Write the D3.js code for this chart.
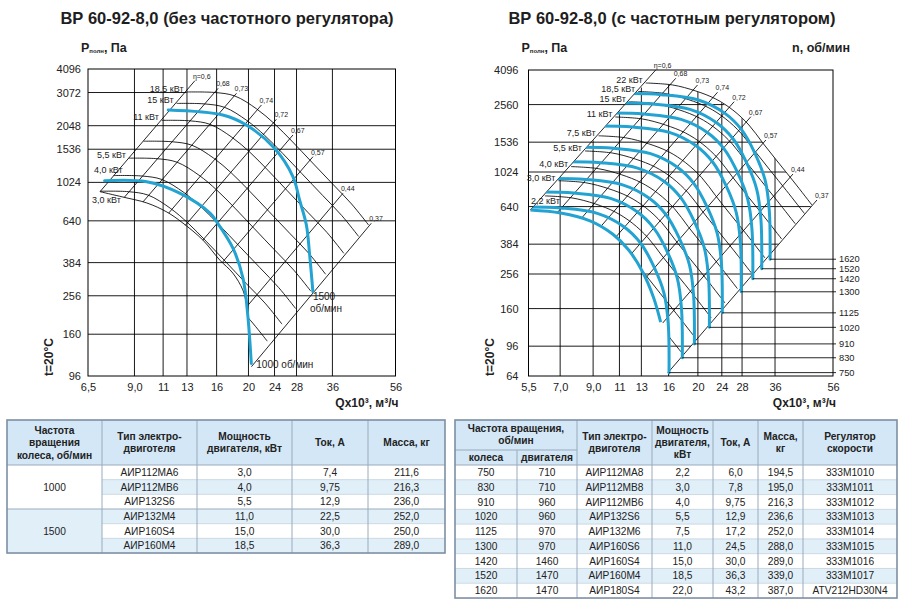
<!DOCTYPE html>
<html><head><meta charset="utf-8">
<script src="https://cdn.jsdelivr.net/npm/d3@7/dist/d3.min.js"></script>
<style>body{margin:0;background:#fff}svg{display:block}</style>
</head><body><svg id="c" width="900" height="601"></svg>
<script>
// ================= DATA =================
const leftTitle = "ВР 60-92-8,0 (без частотного регулятора)";
const rightTitle = "ВР 60-92-8,0 (с частотным регулятором)";

const leftXTicks = [6.5, 9, 11, 13, 16, 20, 24, 28, 36, 56];
const leftXTickLabels = ["6,5","9,0","11","13","16","20","24","28","36","56"];
const leftYTicks = [96,160,256,384,640,1024,1536,2048,3072,4096];
const rightXTicks = [5.5, 7, 9, 11, 13, 16, 20, 24, 28, 36, 56];
const rightXTickLabels = ["5,5","7,0","9,0","11","13","16","20","24","28","36","56"];
const rightYTicks = [64,96,160,256,384,640,1024,1536,2560,4096];

// left chart: fan curves (blue)
const leftSpeeds = ["1000","1500"];
const leftSpeedQ = [[7.3,9.8,12.4,15.3,16.0,17.95,19.25,19.9,20.4],
                    [11.4,16.7,19.7,24.0,27.3,28.6,30.0,30.7,31.4]];
const leftSpeedP = [[1046,1033,896,702,633,457,317,202,112],
                    [2481,2334,2066,1553,1098,826,608,421,269]];
// left chart: power lines (black)
const leftPowerLabels = ["18,5 кВт","15 кВт","11 кВт","","5,5 кВт","4,0 кВт","",""];
const leftPowerQ = [
 [12.96,15.8,18.17,21.19,24.03,27.26,31.13,36.05,41.18,46.38],
 [12.09,14.73,16.94,19.76,22.41,25.42,29.03,33.62,38.40,43.25],
 [10.90,13.29,15.28,17.82,20.21,22.92,26.18,30.31,34.63,39.00],
 [9.59,11.69,13.45,15.68,17.78,20.17,23.04,26.68,30.48,34.33],
 [8.65,10.54,12.12,14.14,16.03,18.19,20.77,24.05,27.48,30.94],
 [7.78,9.48,10.90,12.72,14.42,16.36,18.68,21.63,24.71,27.83],
 [7.07,8.62,9.91,11.56,13.10,14.86,16.98,19.66,22.46,25.29],
 [6.37,7.77,8.94,10.42,11.82,13.41,15.31,17.73,20.25,22.81]];
const leftPowerP = [
 [3092,3073,2945,2512,2091,1678,1314,1004,786,608],
 [2689,2672,2561,2184,1818,1459,1143,873,684,529],
 [2186,2173,2082,1776,1479,1187,929,710,556,430],
 [1694,1683,1613,1376,1145,919,720,550,431,333],
 [1377,1368,1311,1118,931,747,585,447,350,271],
 [1113,1107,1061,905,753,604,473,362,283,219],
 [919,914,876,747,622,499,391,298,234,181],
 [748,743,712,608,506,406,318,243,190,147]];
// left chart: inner boundary line (3,0 кВт)
const leftInnerLabel = "3,0 кВт";
const leftInnerQ = [7.07,8.30,9.82,11.29,12.63,14.53,16.36,17.92,19.22,19.76];
const leftInnerP = [914,856,796,713,623,506,396,338,275,229];
// left chart: efficiency rays
const leftEta = ["η=0,6","0,68","0,73","0,74","0,72","0,67","0,57","0,44","0,37"];
const leftEtaTopQ = [13.74,16.17,18.39,21.9,24.32,27.31,31.42,38.75,47.26];
const leftEtaTopP = [3550,3235,3043,2638,2215,1828,1402,896,621];
const leftEtaBotQ = [7.07,8.39,9.55,11.44,12.85,14.53,16.65,19.79,20.42];
const leftEtaBotP = [914,855,806,704,606,506,385,224.6,107.6];

// right chart: fan curves (blue)
const rightSpeeds = ["750","830","910","1020","1125","1300","1420","1520","1620"];
const rightSpeedQ = [
 [5.5,7.02,9.29,11.38,12.93,14.3,15.45,15.95,16.05],
 [6.09,7.77,10.28,12.59,14.31,15.83,17.10,17.65,17.76],
 [6.67,8.52,11.27,13.81,15.69,17.35,18.75,19.35,19.47],
 [7.48,9.55,12.63,15.48,17.58,19.45,21.01,21.69,21.83],
 [8.25,10.53,13.94,17.07,19.40,21.45,23.18,23.93,24.08],
 [9.53,12.17,16.10,19.72,22.41,24.79,26.78,27.65,27.82],
 [10.41,13.29,17.59,21.55,24.48,27.07,29.25,30.20,30.39],
 [11.15,14.23,18.83,23.06,26.21,28.98,31.31,32.33,32.53],
 [11.88,15.16,20.07,24.58,27.93,30.89,33.37,34.45,34.67]];
const rightSpeedP = [
 [637,628,584,487,389,283,197,131,67],
 [780,769,715,596,476,347,241,160,82],
 [938,925,860,717,573,417,290,193,99],
 [1178,1162,1080,901,720,523,364,242,124],
 [1433,1413,1314,1096,875,637,443,295,151],
 [1914,1887,1755,1463,1169,850,592,394,201],
 [2283,2251,2093,1746,1394,1014,706,470,240],
 [2616,2579,2399,2000,1598,1162,809,538,275],
 [2972,2930,2725,2272,1815,1320,919,611,313]];
// right chart: inner boundary curve (blue)
const rightInnerQ = [5.58,7.02,8.83,10.44,11.8,13.13,14.28,15.06];
const rightInnerP = [611,586.6,526,441,355,263,185,133];
// right chart: power lines (black)
const rightPowerLabels = ["22 кВт","18,5 кВт","15 кВт","11 кВт","7,5 кВт","5,5 кВт","4,0 кВт","3,0 кВт","2,2 кВт","",""];
const rightPowerQ = [
 [13.43,16.51,19.68,22.92,26.1,29.5,32.8,36.8,41.6,47.7],
 [12.68,15.58,18.57,21.63,24.63,27.84,30.96,34.73,39.26,45.02],
 [11.82,14.53,17.32,20.17,22.97,25.96,28.87,32.39,36.61,41.98],
 [10.66,13.10,15.62,18.19,20.72,23.41,26.03,29.21,33.02,37.86],
 [9.38,11.53,13.75,16.01,18.23,20.61,22.91,25.70,29.06,33.32],
 [8.46,10.40,12.40,14.44,16.44,18.59,20.66,23.18,26.21,30.05],
 [7.61,9.35,11.15,12.98,14.79,16.71,18.58,20.85,23.57,27.02],
 [6.91,8.50,10.13,11.80,13.44,15.19,16.89,18.94,21.42,24.56],
 [6.23,7.66,9.14,10.64,12.12,13.69,15.23,17.08,19.31,22.14],
 [5.49,6.74,8.04,9.36,10.66,12.05,13.40,15.03,16.99,19.49],
 [5.0,6.08,7.25,8.44,9.62,10.87,12.08,13.56,15.33,17.57]];
const rightPowerP = [
 [3433,3341,3079,2762,2378,1940,1519,1173,894,654],
 [3058,2976,2743,2460,2118,1728,1353,1045,796,583],
 [2659,2588,2385,2139,1842,1503,1177,909,692,507],
 [2163,2105,1940,1740,1498,1222,957,739,563,412],
 [1675,1630,1502,1348,1160,947,741,572,436,319],
 [1363,1326,1222,1096,944,770,603,466,355,260],
 [1102,1072,988,886,763,623,487,376,287,210],
 [910,885,816,732,630,514,403,311,237,173],
 [740,720,664,595,512,418,327,253,193,141],
 [573,558,514,461,397,324,254,196,149,109],
 [466,453,418,375,323,263,206,159,121,89]];
// right chart: efficiency rays
const rightEta = ["η=0,6","0,68","0,73","0,74","0,72","0,67","0,57","0,44","0,37"];
const rightEtaTopQ = [14.50,16.89,19.94,23.22,26.36,29.94,33.58,41.27,49.56];
const rightEtaTopP = [4096,3659,3341,3025,2662,2171,1582,996,700];
const rightEtaBotQ = [5.58,6.85,8.21,9.53,10.66,12.03,13.39,15.3,15.89];
const rightEtaBotP = [611,590,543,487,420,336,241,131.6,66.7];

// left table
const lTblHead = [["Частота","вращения","колеса, об/мин"],["Тип электро-","двиготеля"],["Мощность","двигателя, кВт"],["Ток, А"],["Масса, кг"]];
const lTblSpeed = ["1000","1500"];
const lTblMotor = ["АИР112МА6","АИР112МВ6","АИР132S6","АИР132М4","АИР160S4","АИР160М4"];
const lTblPower = ["3,0","4,0","5,5","11,0","15,0","18,5"];
const lTblCurrent = ["7,4","9,75","12,9","22,5","30,0","36,3"];
const lTblMass = ["211,6","216,3","236,0","252,0","250,0","289,0"];
// right table
const rTblHeadTop = ["Частота вращения,","об/мин"];
const rTblSub = ["колеса","двигателя"];
const rTblHead = [["Тип электро-","двиготеля"],["Мощность","двигателя,","кВт"],["Ток, А"],["Масса,","кг"],["Регулятор","скорости"]];
const rTblWheel = ["750","830","910","1020","1125","1300","1420","1520","1620"];
const rTblMotorRpm = ["710","710","960","960","970","970","1460","1470","1470"];
const rTblMotor = ["АИР112МА8","АИР112МВ8","АИР112МВ6","АИР132S6","АИР132М6","АИР160S6","АИР160S4","АИР160М4","АИР180S4"];
const rTblPower = ["2,2","3,0","4,0","5,5","7,5","11,0","15,0","18,5","22,0"];
const rTblCurrent = ["6,0","7,8","9,75","12,9","17,2","24,5","30,0","36,3","43,2"];
const rTblMass = ["194,5","195,0","216,3","236,6","252,0","288,0","289,0","339,0","387,0"];
const rTblReg = ["333М1010","333М1011","333М1012","333М1013","333М1014","333М1015","333М1016","333М1017","ATV212HD30N4"];

// ================= DRAWING =================
const FONT = '"Liberation Sans", Arial, Helvetica, sans-serif';
const BLUE = "#22a3d2";
const INK = "#1e1e1e";
const svg = d3.select("#c").attr("font-family", FONT);
const zip = (Q,P) => Q.map((q,i)=>[q,P[i]]);

function makeLine(x,y){ return d3.line().x(d=>x(d[0])).y(d=>y(d[1])).curve(d3.curveCatmullRom.alpha(0.5)); }

function axes(g, x, y, xr, yr, xt, xtl, yt, ypad){
  const ax = g.append("g").attr("transform",`translate(0,${yr[0]})`)
    .call(d3.axisBottom(x).tickValues(xt).tickFormat((d,i)=>xtl[i]).tickSize(0).tickPadding(7));
  ax.select(".domain").remove();
  ax.selectAll("text").attr("font-size",11).attr("fill","#222").attr("font-family",FONT);
  const ay = g.append("g").attr("transform",`translate(${xr[0]},0)`)
    .call(d3.axisLeft(y).tickValues(yt).tickFormat(d=>String(d)).tickSize(0).tickPadding(ypad));
  ay.select(".domain").remove();
  ay.selectAll("text").attr("font-size",11).attr("fill","#222").attr("font-family",FONT);
}

function titles(g, cx, title, xl, xr, yt, yb, rightN){
  g.append("text").attr("x",cx).attr("y",24).attr("text-anchor","middle")
    .attr("font-size",16.5).attr("font-weight","bold").attr("fill",INK).text(title);
  const t = g.append("text").attr("x",xl-7).attr("y",52).attr("font-size",12.5).attr("font-weight","bold").attr("fill",INK);
  t.append("tspan").text("P");
  t.append("tspan").attr("font-size",6).attr("dy",1).text("полн");
  t.append("tspan").attr("dy",-1).text(", Па");
  g.append("text").attr("transform",`translate(${xl-35},${yb-19}) rotate(-90)`).attr("text-anchor","middle")
    .attr("font-size",12).attr("font-weight","bold").attr("fill",INK).text("t=20°C");
  g.append("text").attr("x",xr+3).attr("y",407).attr("text-anchor","end")
    .attr("font-size",12).attr("font-weight","bold").attr("fill",INK).text("Qx10³, м³/ч");
  if(rightN) g.append("text").attr("x",xr+17).attr("y",52).attr("text-anchor","end")
    .attr("font-size",12.5).attr("font-weight","bold").attr("fill",INK).text("n, об/мин");
}

function etaRays(g, x, y, names, tq, tp, bq, bp){
  names.forEach((nm,i)=>{
    const a=[x(bq[i]),y(bp[i])], b=[x(tq[i]),y(tp[i])];
    g.append("line").attr("x1",a[0]).attr("y1",a[1]).attr("x2",b[0]).attr("y2",b[1])
      .attr("stroke","#000").attr("stroke-width",0.85);
    g.append("text").attr("x",b[0]-2).attr("y",b[1]-2).attr("font-size",7).attr("fill","#222").text(nm);
  });
}

const labelShift = {"4,0 кВт|L":[9,-3],"3,0 кВт|L":[-2,6],"2,2 кВт|R":[15,8]};
function kwLabel(g, px, py, txt, side){
  const s = labelShift[txt+"|"+side] || [-3,0];
  g.append("text").attr("x",px+s[0]).attr("y",py+s[1]).attr("text-anchor","end")
    .attr("font-size",9).attr("fill","#222").text(txt);
}

// ---------- LEFT CHART ----------
(function(){
  const xr=[88,395.5], yr=[376,69];
  const x=d3.scaleLog().domain([6.5,56]).range(xr);
  const y=d3.scaleLog().domain([96,4096]).range(yr);
  const line=makeLine(x,y);
  const g=svg.append("g");
  leftXTicks.slice(1,-1).forEach(v=>g.append("line").attr("x1",x(v)).attr("x2",x(v)).attr("y1",yr[1]).attr("y2",yr[0])
    .attr("stroke","#000").attr("stroke-width",0.9));
  leftYTicks.slice(1,-1).forEach(v=>{
    const xe = v>=3000 ? x(leftPowerQ[0][0]) : xr[1];
    g.append("line").attr("x1",xr[0]).attr("x2",xe).attr("y1",y(v)).attr("y2",y(v))
      .attr("stroke","#000").attr("stroke-width",0.9);
  });
  g.append("rect").attr("x",xr[0]).attr("y",yr[1]).attr("width",xr[1]-xr[0]).attr("height",yr[0]-yr[1])
    .attr("fill","none").attr("stroke","#000").attr("stroke-width",1);
  axes(g,x,y,xr,yr,leftXTicks,leftXTickLabels,leftYTicks,7);
  titles(g,227,leftTitle,xr[0],xr[1],yr[1],yr[0],false);
  const inner=zip(leftInnerQ,leftInnerP);
  const b1000=zip(leftSpeedQ[0],leftSpeedP[0]);
  const poly=[[60,40],[420,40],[420,385],[x(b1000[8][0]),y(b1000[8][1])],[x(b1000[7][0]),y(b1000[7][1])]]
    .concat(inner.slice().reverse().map(d=>[x(d[0]),y(d[1])])).concat([[60,y(inner[0][1])]]);
  g.append("clipPath").attr("id","clipL").append("polygon").attr("points",poly.map(p=>p.join(",")).join(" "));
  const pg=g.append("g").attr("clip-path","url(#clipL)");
  leftPowerQ.forEach((Q,i)=>{
    pg.append("path").attr("d",line(zip(Q,leftPowerP[i]))).attr("fill","none").attr("stroke","#000").attr("stroke-width",0.85);
  });
  leftPowerQ.forEach((Q,i)=>{ if(leftPowerLabels[i]) kwLabel(g,x(Q[0]),y(leftPowerP[i][0]),leftPowerLabels[i],"L"); });
  g.append("path").attr("d",line(inner)).attr("fill","none").attr("stroke","#000").attr("stroke-width",0.85);
  kwLabel(g,x(inner[1][0]),y(inner[1][1]),leftInnerLabel,"L");
  etaRays(g,x,y,leftEta,leftEtaTopQ,leftEtaTopP,leftEtaBotQ,leftEtaBotP);
  leftSpeedQ.forEach((Q,i)=>{
    g.append("path").attr("d",line(zip(Q,leftSpeedP[i]))).attr("fill","none").attr("stroke",BLUE)
      .attr("stroke-width",3).attr("stroke-linecap","round");
  });
  const e0=[x(leftSpeedQ[0][8]),y(leftSpeedP[0][8])];
  g.append("text").attr("x",e0[0]+5).attr("y",e0[1]+5).attr("font-size",10).attr("fill","#222").text(leftSpeeds[0]+" об/мин");
  const e1=[x(leftSpeedQ[1][8]),y(leftSpeedP[1][8])];
  g.append("text").attr("x",e1[0]).attr("y",e1[1]+8).attr("font-size",10).attr("fill","#222").text(leftSpeeds[1]);
  g.append("text").attr("x",e1[0]-3).attr("y",e1[1]+20).attr("font-size",10).attr("fill","#222").text("об/мин");
})();

// ---------- RIGHT CHART ----------
(function(){
  const xr=[528.5,833], yr=[376,70];
  const x=d3.scaleLog().domain([5.5,56]).range(xr);
  const y=d3.scaleLog().domain([64,4096]).range(yr);
  const line=makeLine(x,y);
  const P=d=>[x(d[0]),y(d[1])];
  const g=svg.append("g");
  const arc=zip(rightPowerQ[0],rightPowerP[0]).map(P);
  const r06t=P([rightEtaTopQ[0],rightEtaTopP[0]]), r06b=P([rightEtaBotQ[0],rightEtaBotP[0]]);
  const r37b=P([rightEtaBotQ[8],rightEtaBotP[8]]);
  const hPoly=[[xr[0]-1,yr[1]-1],r06t].concat(arc).concat([r37b,[r37b[0],yr[0]+1],[xr[0]-1,yr[0]+1]]);
  const vPoly=[[xr[0]-1,yr[0]+1],[xr[0]-1,r06b[1]],r06b].concat(arc).concat([[xr[1]+1,arc[arc.length-1][1]],[xr[1]+1,yr[0]+1]]);
  g.append("clipPath").attr("id","clipRH").append("polygon").attr("points",hPoly.map(p=>p.join(",")).join(" "));
  g.append("clipPath").attr("id","clipRV").append("polygon").attr("points",vPoly.map(p=>p.join(",")).join(" "));
  const gh=g.append("g").attr("clip-path","url(#clipRH)");
  rightYTicks.slice(1,-1).forEach(v=>gh.append("line").attr("x1",xr[0]).attr("x2",xr[1]).attr("y1",y(v)).attr("y2",y(v))
    .attr("stroke","#000").attr("stroke-width",0.9));
  const gv=g.append("g").attr("clip-path","url(#clipRV)");
  rightXTicks.slice(1,-1).forEach(v=>gv.append("line").attr("x1",x(v)).attr("x2",x(v)).attr("y1",yr[1]).attr("y2",yr[0])
    .attr("stroke","#000").attr("stroke-width",0.9));
  g.append("rect").attr("x",xr[0]).attr("y",yr[1]).attr("width",xr[1]-xr[0]).attr("height",yr[0]-yr[1])
    .attr("fill","none").attr("stroke","#000").attr("stroke-width",1);
  axes(g,x,y,xr,yr,rightXTicks,rightXTickLabels,rightYTicks,10);
  titles(g,672,rightTitle,xr[0],xr[1],yr[1],yr[0],true);
  const inner=zip(rightInnerQ,rightInnerP);
  const c750=zip(rightSpeedQ[0],rightSpeedP[0]);
  const mPoly=[[xr[0]-3,40],[xr[1]+3,40],[xr[1]+3,yr[0]+5],[P(c750[8])[0],yr[0]+5],P(c750[8]),P(c750[7])]
    .concat(inner.slice().reverse().map(P)).concat([[xr[0]-3,P(inner[0])[1]]]);
  g.append("clipPath").attr("id","clipRM").append("polygon").attr("points",mPoly.map(p=>p.join(",")).join(" "));
  const pg=g.append("g").attr("clip-path","url(#clipRM)");
  rightPowerQ.forEach((Q,i)=>{
    pg.append("path").attr("d",line(zip(Q,rightPowerP[i]))).attr("fill","none").attr("stroke","#000").attr("stroke-width",0.85);
  });
  rightPowerQ.forEach((Q,i)=>{ if(rightPowerLabels[i]) kwLabel(g,x(Q[0]),y(rightPowerP[i][0]),rightPowerLabels[i],"R"); });
  etaRays(g,x,y,rightEta,rightEtaTopQ,rightEtaTopP,rightEtaBotQ,rightEtaBotP);
  const dx=r06t[0]-r06b[0], dy=r06t[1]-r06b[1];
  const ext=(t)=>[r06b[0]+dx*t, r06b[1]+dy*t];
  const bPoly=[ext(-1.5),ext(1.5),[xr[1]+60,ext(1.5)[1]],[xr[1]+60,yr[0]+60],[ext(-1.5)[0],yr[0]+60]];
  g.append("clipPath").attr("id","clipRB").append("polygon").attr("points",bPoly.map(p=>p.join(",")).join(" "));
  const bg=g.append("g").attr("clip-path","url(#clipRB)");
  bg.append("path").attr("d",line(inner)).attr("fill","none").attr("stroke",BLUE).attr("stroke-width",3);
  rightSpeedQ.forEach((Q,i)=>{
    bg.append("path").attr("d",line(zip(Q,rightSpeedP[i]))).attr("fill","none").attr("stroke",BLUE)
      .attr("stroke-width",3).attr("stroke-linecap","round");
  });
  rightSpeedQ.forEach((Q,i)=>{
    const e=P([Q[Q.length-1],rightSpeedP[i][Q.length-1]]);
    g.append("line").attr("x1",e[0]).attr("x2",xr[1]+3).attr("y1",e[1]).attr("y2",e[1]).attr("stroke","#000").attr("stroke-width",0.85);
    g.append("text").attr("x",xr[1]+6).attr("y",e[1]+3.2).attr("font-size",9.3).attr("fill","#222").text(rightSpeeds[i]);
  });
})();

// ---------- TABLES ----------
const HEAD="#d3e7f6", ALT="#e1eff9", BORD="#7d8fa3", SEP="#9aabbd", RSEP="#c3d0dc";
function txt(g,x,y,s,o){ const t=g.append("text").attr("x",x).attr("y",y).attr("text-anchor","middle")
  .attr("font-size",(o&&o.fs)||10.2).attr("fill","#222").text(s); if(o&&o.b) t.attr("font-weight","bold"); return t; }

(function(){
  const X=[7,102,197,292,368,445], y0=420, hH=45, rH=14.67, n=6;
  const g=svg.append("g");
  const yb=y0+hH+n*rH;
  g.append("rect").attr("x",X[0]).attr("y",y0).attr("width",X[5]-X[0]).attr("height",hH).attr("fill",HEAD);
  for(let i=0;i<n;i++){
    g.append("rect").attr("x",X[1]).attr("y",y0+hH+i*rH).attr("width",X[5]-X[1]).attr("height",rH)
      .attr("fill",(i%2===1)?ALT:"#fff");
  }
  g.append("rect").attr("x",X[0]).attr("y",y0+hH).attr("width",X[1]-X[0]).attr("height",3*rH).attr("fill","#fff");
  g.append("rect").attr("x",X[0]).attr("y",y0+hH+3*rH).attr("width",X[1]-X[0]).attr("height",3*rH).attr("fill",ALT);
  for(let i=1;i<n;i++){ if(i===3) continue;
    g.append("line").attr("x1",X[1]).attr("x2",X[5]).attr("y1",y0+hH+i*rH).attr("y2",y0+hH+i*rH).attr("stroke",RSEP).attr("stroke-width",0.8); }
  g.append("line").attr("x1",X[0]).attr("x2",X[5]).attr("y1",y0+hH+3*rH).attr("y2",y0+hH+3*rH).attr("stroke",SEP).attr("stroke-width",1);
  g.append("line").attr("x1",X[0]).attr("x2",X[5]).attr("y1",y0+hH).attr("y2",y0+hH).attr("stroke",SEP).attr("stroke-width",1);
  for(let j=1;j<5;j++) g.append("line").attr("x1",X[j]).attr("x2",X[j]).attr("y1",y0).attr("y2",yb).attr("stroke",SEP).attr("stroke-width",1);
  g.append("rect").attr("x",X[0]).attr("y",y0).attr("width",X[5]-X[0]).attr("height",yb-y0).attr("fill","none").attr("stroke",BORD).attr("stroke-width",1.6);
  lTblHead.forEach((lines,j)=>{
    const cx=(X[j]+X[j+1])/2, lh=12.5, start=y0+hH/2-(lines.length-1)*lh/2+3.6;
    lines.forEach((s,k)=>txt(g,cx,start+k*lh,s,{b:true}));
  });
  txt(g,(X[0]+X[1])/2,y0+hH+1.5*rH+3.6,lTblSpeed[0]);
  txt(g,(X[0]+X[1])/2,y0+hH+4.5*rH+3.6,lTblSpeed[1]);
  const cols=[lTblMotor,lTblPower,lTblCurrent,lTblMass];
  cols.forEach((arr,c)=>arr.forEach((s,i)=>txt(g,(X[c+1]+X[c+2])/2,y0+hH+i*rH+rH/2+3.6,s)));
})();

(function(){
  const X=[455,517,577,652,713,758,803,897], y0=420, hT=30, hH=45, rH=14.78, n=9;
  const g=svg.append("g");
  const yb=y0+hH+n*rH;
  g.append("rect").attr("x",X[0]).attr("y",y0).attr("width",X[7]-X[0]).attr("height",hH).attr("fill",HEAD);
  for(let i=0;i<n;i++){
    g.append("rect").attr("x",X[0]).attr("y",y0+hH+i*rH).attr("width",X[7]-X[0]).attr("height",rH)
      .attr("fill",(i%2===1)?ALT:"#fff");
    if(i>0) g.append("line").attr("x1",X[0]).attr("x2",X[7]).attr("y1",y0+hH+i*rH).attr("y2",y0+hH+i*rH).attr("stroke",RSEP).attr("stroke-width",0.8);
  }
  g.append("line").attr("x1",X[0]).attr("x2",X[7]).attr("y1",y0+hH).attr("y2",y0+hH).attr("stroke",SEP).attr("stroke-width",1);
  g.append("line").attr("x1",X[0]).attr("x2",X[2]).attr("y1",y0+hT).attr("y2",y0+hT).attr("stroke",SEP).attr("stroke-width",1);
  g.append("line").attr("x1",X[1]).attr("x2",X[1]).attr("y1",y0+hT).attr("y2",yb).attr("stroke",SEP).attr("stroke-width",1);
  for(let j=2;j<7;j++) g.append("line").attr("x1",X[j]).attr("x2",X[j]).attr("y1",y0).attr("y2",yb).attr("stroke",SEP).attr("stroke-width",1);
  g.append("rect").attr("x",X[0]).attr("y",y0).attr("width",X[7]-X[0]).attr("height",yb-y0).attr("fill","none").attr("stroke",BORD).attr("stroke-width",1.6);
  txt(g,(X[0]+X[2])/2,y0+11.5,rTblHeadTop[0],{b:true});
  txt(g,(X[0]+X[2])/2,y0+24,rTblHeadTop[1],{b:true});
  txt(g,(X[0]+X[1])/2,y0+hT+11,rTblSub[0],{b:true});
  txt(g,(X[1]+X[2])/2,y0+hT+11,rTblSub[1],{b:true});
  rTblHead.forEach((lines,j)=>{
    const cx=(X[j+2]+X[j+3])/2, lh=12, start=y0+hH/2-(lines.length-1)*lh/2+3.6;
    lines.forEach((s,k)=>txt(g,cx,start+k*lh,s,{b:true}));
  });
  const cols=[rTblWheel,rTblMotorRpm,rTblMotor,rTblPower,rTblCurrent,rTblMass,rTblReg];
  cols.forEach((arr,c)=>arr.forEach((s,i)=>txt(g,(X[c]+X[c+1])/2,y0+hH+i*rH+rH/2+3.6,s)));
})();
</script></body></html>
